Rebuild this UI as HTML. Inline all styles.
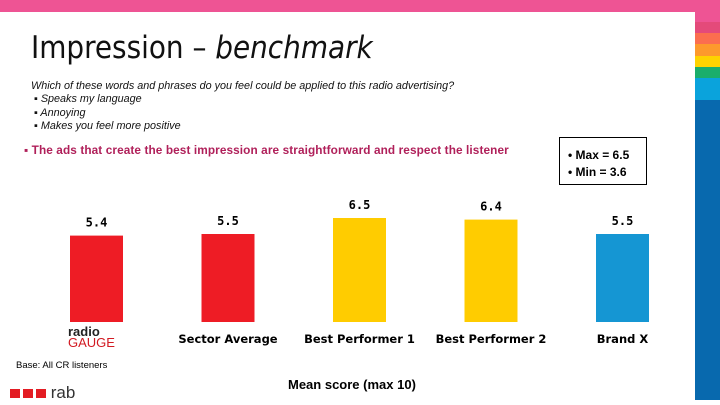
<!DOCTYPE html>
<html><head><meta charset="utf-8"><style>
body{margin:0;width:720px;height:405px;overflow:hidden;background:#fff;font-family:"Liberation Sans",sans-serif;position:relative}
div{position:absolute}
</style></head><body>
<div style="left:0;top:0;width:720px;height:12px;background:#ee5494"></div>
<div style="left:695px;top:0;width:25px;height:400px;background:linear-gradient(#ee5494 0 22px,#e44a7a 22px 33px,#fb6e4f 33px 44px,#fd9a2c 44px 56px,#fed300 56px 67px,#1aae6b 67px 78px,#0aa3dc 78px 100px,#0869ae 100px)"></div>
<div style="left:31px;top:30px;font-size:31px;color:#111;font-family:'DejaVu Sans Condensed','Liberation Sans',sans-serif;font-weight:300">Impression – <i>benchmark</i></div>
<div style="left:31px;top:80px;font-size:10.8px;font-style:italic;line-height:13.3px;color:#111">Which of these words and phrases do you feel could be applied to this radio advertising?<br>&nbsp;▪ Speaks my language<br>&nbsp;▪ Annoying<br>&nbsp;▪ Makes you feel more positive</div>
<div style="left:24px;top:143px;font-size:11.8px;font-weight:bold;color:#b0205a;letter-spacing:0.1px">▪ The ads that create the best impression are straightforward and respect the listener</div>
<div style="left:559px;top:137px;width:88px;height:48px;border:1px solid #000;font-size:12px;font-weight:bold;line-height:17px;padding:9px 0 0 8px;box-sizing:border-box">• Max = 6.5<br>• Min = 3.6</div>
<svg style="position:absolute;left:0;top:0" width="720" height="405">
<g id="g"></g></svg>
<div style="left:68px;top:326px;line-height:11px"><div style="position:static;font-size:13px;font-weight:bold;color:#222">radio</div><div style="position:static;font-size:13px;color:#d21a22">GAUGE</div></div>
<div style="left:16px;top:360px;font-size:9.5px">Base: All CR listeners</div>
<div style="left:10px;top:383px;font-size:17px;color:#333;display:flex;align-items:center"><span style="display:inline-block;width:36px;height:9px;background:repeating-linear-gradient(90deg,#e31c23 0 10px,#fff 10px 13px)"></span>&nbsp;rab</div>
<div style="left:288px;top:377px;font-size:13px;font-weight:bold">Mean score (max 10)</div>
<script>
const categories=["","Sector Average","Best Performer 1","Best Performer 2","Brand X"];
const values=[5.4,5.5,6.5,6.4,5.5];
const labels=["5.4","5.5","6.5","6.4","5.5"];
const colors=["#ee1c25","#ee1c25","#ffcc00","#ffcc00","#1596d3"];
const g=document.getElementById('g');const NS="http://www.w3.org/2000/svg";
const base=322,k=16,bw=53;
const x=i=>70+i*131.5;const y=v=>base-v*k;
values.forEach((v,i)=>{
 const r=document.createElementNS(NS,'rect');
 
 
 r.setAttribute('x',x(i));r.setAttribute('y',y(v));r.setAttribute('width',bw);r.setAttribute('height',base-y(v));r.setAttribute('fill',colors[i]);g.appendChild(r);
 const t=document.createElementNS(NS,'text');
 
 
 t.setAttribute('x',x(i)+bw/2);t.setAttribute('y',y(v)-9);t.setAttribute('text-anchor','middle');t.setAttribute('font-size','12');t.setAttribute('font-weight','bold');t.setAttribute('font-family','DejaVu Sans Mono,monospace');t.textContent=labels[i];g.appendChild(t);
 if(categories[i]){const c=document.createElementNS(NS,'text');
 
 
 c.setAttribute('x',x(i)+bw/2);c.setAttribute('y',343);c.setAttribute('text-anchor','middle');c.setAttribute('font-size','11.5');c.setAttribute('font-weight','bold');c.setAttribute('font-family','DejaVu Sans,sans-serif');c.textContent=categories[i];g.appendChild(c);}
});
</script>
</body></html>
